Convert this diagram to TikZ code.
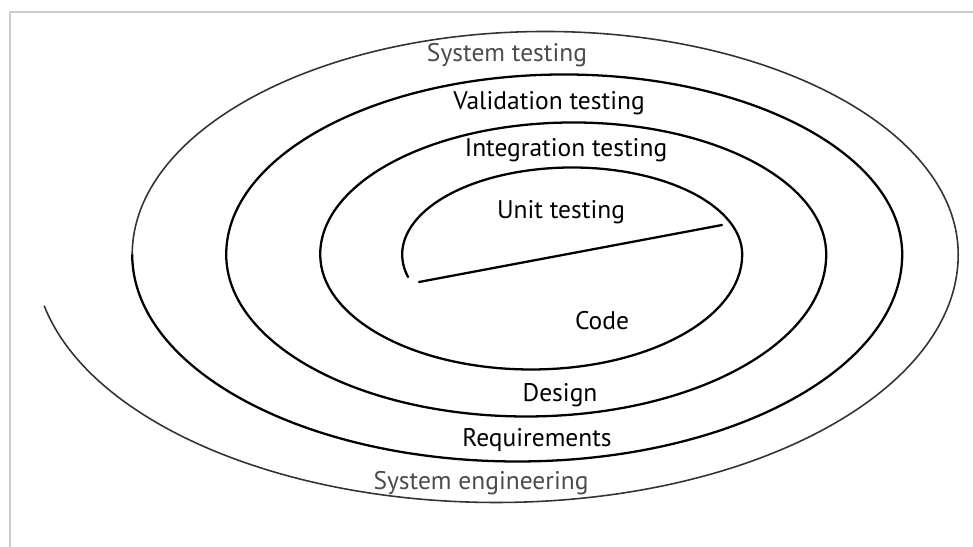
\documentclass[tikz,border=0pt]{standalone}
\usepackage{fontspec}
\setmainfont{PT Sans}
\begin{document}
\begin{tikzpicture}[x=0.02cm, y=-0.02cm,
    lbl/.style={font=\fontsize{14.5}{16}\selectfont, inner sep=0pt},
    faint/.style={lbl, text=black!70},
    coil/.style={line width=1.3pt, line cap=round},
    outercoil/.style={line width=0.9pt, draw=black!80, line cap=round},
    frame/.style={line width=1.2pt, draw=black!20}
  ]
  \useasboundingbox (0,0) rectangle (973,547);
  \draw[frame] (10,547) -- (10,12) -- (973,12);

  % spiral, half a turn per arc
  \coordinate (inner) at (408,277);
  \draw[coil] (inner)
    arc[start angle=165, end angle=360, x radius=170, y radius=87]
    arc[start angle=0, end angle=180, x radius=211, y radius=115]
    arc[start angle=180, end angle=360, x radius=253, y radius=132]
    arc[start angle=0, end angle=180, x radius=300, y radius=162]
    arc[start angle=180, end angle=360, x radius=338, y radius=180]
    arc[start angle=0, end angle=180, x radius=385, y radius=207] coordinate (turn);
  \draw[outercoil] (turn)
    arc[start angle=180, end angle=360, x radius=413, y radius=223]
    arc[start angle=0, end angle=168, x radius=462, y radius=248];

  % cut across the inner turn
  \coordinate (cutL) at (419,282);
  \coordinate (cutR) at (722,225);
  \draw[coil] (cutL) -- (cutR);

  \node[faint] (systest) at (507,55)  {System testing};
  \node[lbl]   (valtest) at (549,103) {Validation testing};
  \node[lbl]   (inttest) at (566,150) {Integration testing};
  \node[lbl]   (unittest) at (561,212) {Unit testing};
  \node[lbl]   (code)    at (602,321) {Code};
  \node[lbl]   (design)  at (560,395) {Design};
  \node[lbl]   (req)     at (537,440) {Requirements};
  \node[faint] (syseng)  at (481,483) {System engineering};
\end{tikzpicture}
\end{document}
